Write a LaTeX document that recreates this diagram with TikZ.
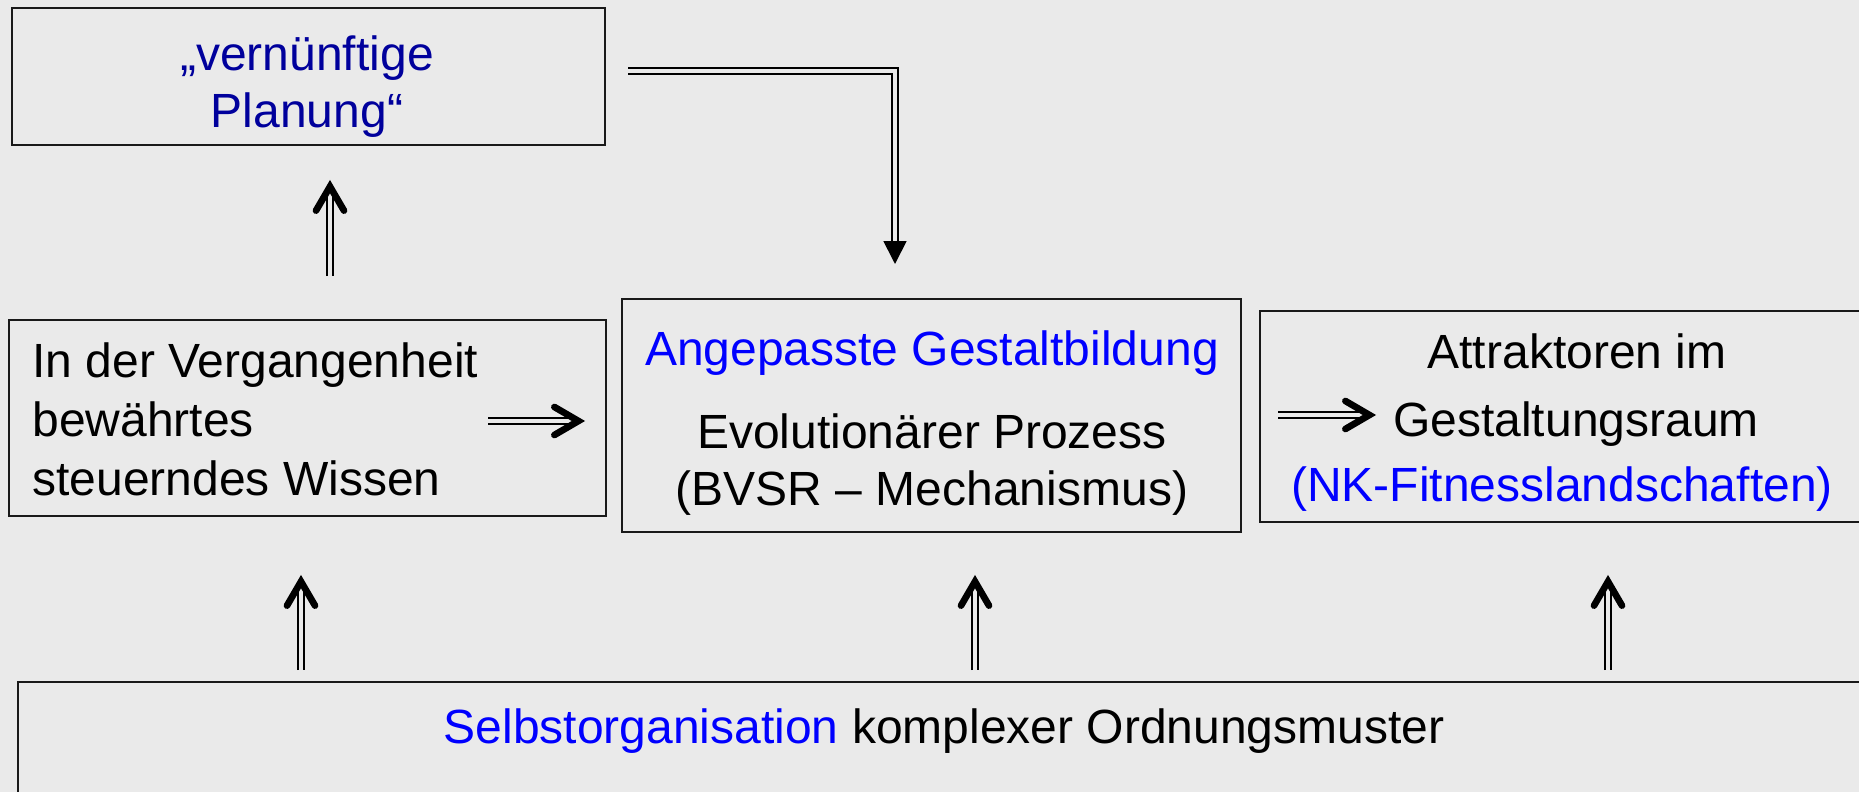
\documentclass[tikz,border=0pt]{standalone}
\usepackage{fontspec}
\setmainfont{Liberation Sans}
\usetikzlibrary{arrows.meta}
\definecolor{bg}{HTML}{EAEAEA}
\definecolor{navy}{HTML}{00009C}
\definecolor{brightblue}{HTML}{0000FF}
\tikzset{
  box/.style={draw=black!90, line width=1.3pt, inner sep=0pt, outer sep=0pt},
  txt/.style={anchor=base, inner sep=0pt, font=\fontsize{24}{28}\selectfont},
  dbl/.style={draw=black, line width=0.9pt, double=bg, double distance=1.9pt},
  tri/.style={dbl, -{Triangle[length=11.5pt,width=11.5pt]}},
  chevron/.pic={\draw[black, line width=3.35pt, line cap=round, line join=miter, miter limit=20]
      (-30.6,14) -- (-6.6,0) -- (-30.6,-14);}
}
\begin{document}
\begin{tikzpicture}[x=0.5pt,y=-0.5pt]
\fill[bg] (0,0) rectangle (1859,792);
\useasboundingbox (0,0) rectangle (1859,792);
\clip (0,0) rectangle (1859,792);

% boxes
\node[box, minimum width=296.5pt, minimum height=68.5pt] (plan) at (308.5,76.5) {};
\node[box, minimum width=298.5pt, minimum height=98pt] (past) at (307.5,418) {};
\node[box, minimum width=309.5pt, minimum height=116.5pt] (evo) at (931.5,415.5) {};
\node[box, minimum width=310pt, minimum height=105.5pt] (attr) at (1570,416.5) {};
\node[box, minimum width=931pt, minimum height=69pt] (self) at (949,751) {};

% texts
\node[txt, text=navy] (plan1) at (307,71) {„vernünftige};
\node[txt, text=navy] (plan2) at (307,127) {Planung“};

\node[txt, anchor=base west] (past1) at (32,377) {In der Vergangenheit};
\node[txt, anchor=base west] (past2) at (32,436) {bewährtes};
\node[txt, anchor=base west] (past3) at (32,495) {steuerndes Wissen};

\node[txt, text=brightblue] (evo1) at (932,365) {Angepasste Gestaltbildung};
\node[txt] (evo2) at (932,448) {Evolutionärer Prozess};
\node[txt] (evo3) at (932,505) {(BVSR – Mechanismus)};

\node[txt] (attr1) at (1577,368) {Attraktoren im};
\node[txt] (attr2) at (1576,436) {Gestaltungsraum};
\node[txt, text=brightblue] (attr3) at (1562,501) {(NK-Fitnesslandschaften)};

\node[txt] (selft) at (944,743) {\textcolor{brightblue}{Selbstorganisation} komplexer Ordnungsmuster};

% helper coordinates
\coordinate (x1) at (330,0);
\coordinate (x2) at (895,0);
\coordinate (x3) at (301,0);
\coordinate (x4) at (975,0);
\coordinate (x5) at (1608,0);
\coordinate (pa1) at (488,421);
\coordinate (pa2) at (585,421);
\coordinate (aa1) at (1278,415);
\coordinate (aa2) at (1376,415);

\path (past.north -| x1) ++(0,-44) coordinate (s1);
\path (plan.south -| x1) ++(0,35) coordinate (t1);
\path (self.north -| x3) ++(0,-12) coordinate (s3);
\path (past.south -| x3) ++(0,59) coordinate (t3);
\path (self.north -| x4) ++(0,-12) coordinate (s4);
\path (evo.south -| x4) ++(0,43) coordinate (t4);
\path (self.north -| x5) ++(0,-12) coordinate (s5);
\path (attr.south -| x5) ++(0,53) coordinate (t5);

% connectors: double shaft + chevron head
\draw[dbl, shorten >=4pt] (s1) -- (t1);
\pic[rotate=90] at (t1) {chevron};

\draw[tri, shorten >=17.5pt] ([shift={(11.5pt,2.75pt)}]plan.east) -| (evo.north -| x2);

\draw[dbl, shorten >=4pt] (pa1) -- (pa2);
\pic at (pa2) {chevron};

\draw[dbl, shorten >=4pt] (aa1) -- (aa2);
\pic at (aa2) {chevron};

\draw[dbl, shorten >=4pt] (s3) -- (t3);
\pic[rotate=90] at (t3) {chevron};

\draw[dbl, shorten >=4pt] (s4) -- (t4);
\pic[rotate=90] at (t4) {chevron};

\draw[dbl, shorten >=4pt] (s5) -- (t5);
\pic[rotate=90] at (t5) {chevron};
\end{tikzpicture}
\end{document}
